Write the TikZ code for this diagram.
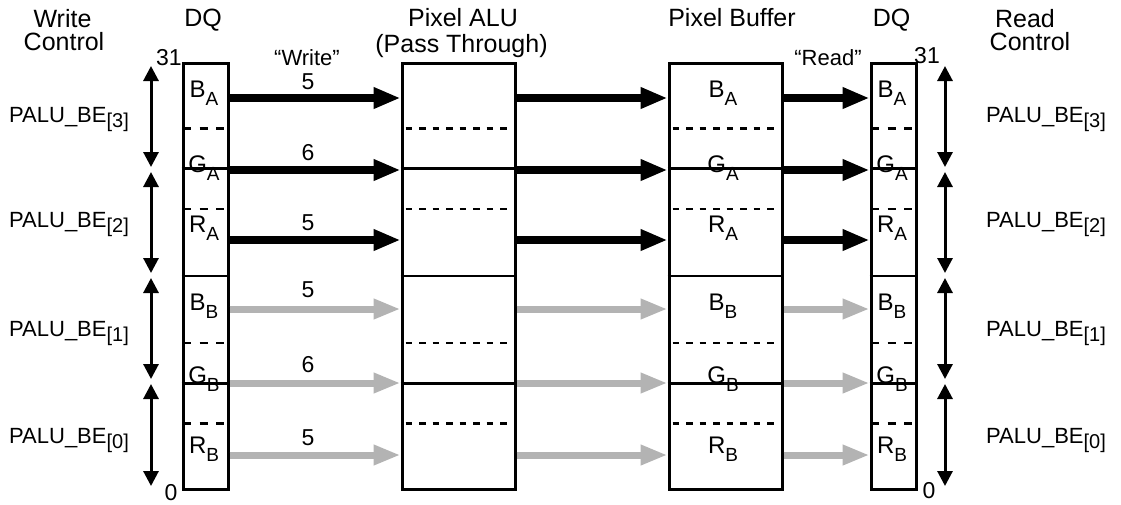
\documentclass[tikz,border=0pt]{standalone}
\usepackage{fontspec}
\setmainfont{Liberation Sans}
\usetikzlibrary{arrows.meta,calc}
\definecolor{lgray}{RGB}{179,179,179}
\newcommand{\csub}[1]{\raisebox{-8pt}{\fontsize{19}{19}\selectfont #1}}
\newcommand{\bsub}[1]{\raisebox{-5pt}{\fontsize{20}{20}\selectfont #1}}
\begin{document}
\begin{tikzpicture}[x=1pt,y=-1pt,
  box/.style={draw, line width=3pt, inner sep=0pt, minimum height=426pt},
  narrow/.style={box, minimum width=45pt},
  wide/.style={box, minimum width=113pt},
  solidln/.style={line width=2.6pt},
  dqdash/.style={line width=2.4pt, dash pattern=on 8pt off 8.5pt},
  aludash/.style={line width=2.4pt, dash pattern=on 6.5pt off 7pt},
  fat/.style={line width=8pt, -{Triangle[length=27pt,width=20pt]}},
  fatg/.style={draw=lgray, line width=7pt, -{Triangle[length=27pt,width=19pt]}},
  dbl/.style={line width=3pt, {Triangle[length=15pt,width=15pt]}-{Triangle[length=15pt,width=15pt]}},
  title/.style={anchor=base, inner sep=0pt, font=\fontsize{25}{28}\selectfont},
  lbl/.style={anchor=base, inner sep=0pt, font=\fontsize{22}{24}\selectfont},
  num/.style={anchor=base, inner sep=0pt, font=\fontsize{23}{24}\selectfont},
  cell/.style={anchor=base, inner sep=0pt, font=\fontsize{24}{26}\selectfont}
]
\useasboundingbox (0,0) rectangle (1121,504);

% boxes
\node[narrow] (dql) at (205.5,276) {};
\node[wide]   (alu) at (458.5,276) {};
\node[wide]   (buf) at (725.5,276) {};
\node[narrow] (dqr) at (893.5,276) {};

% row levels
\coordinate (cB1) at (0,98);
\coordinate (cG1) at (0,170);
\coordinate (cR1) at (0,240);
\coordinate (cB2) at (0,309);
\coordinate (cG2) at (0,383);
\coordinate (cR2) at (0,455);

% inner lines
\foreach \b in {dql,alu,buf,dqr}{
  \foreach \f in {0.25,0.5,0.75}{
    \draw[solidln] ($(\b.north west)!\f!(\b.south west)$) -- ($(\b.north east)!\f!(\b.south east)$);
  }
}
\foreach \b in {dql,dqr}{
  \foreach \f in {0.15625,0.34375,0.65625,0.84375}{
    \draw[dqdash] ($(\b.north west)!\f!(\b.south west)+(1.5,0)$) -- ($(\b.north east)!\f!(\b.south east)$);
  }
}
\foreach \b in {alu,buf}{
  \foreach \f in {0.15625,0.34375,0.65625,0.84375}{
    \draw[aludash] ($(\b.north west)!\f!(\b.south west)+(5,0)$) -- ($(\b.north east)!\f!(\b.south east)+(-5,0)$);
  }
}

% arrows
\foreach \c in {cB1,cG1,cR1}{
  \draw[fat] (dql.east |- \c) -- (alu.west |- \c);
  \draw[fat] (alu.east |- \c) -- (buf.west |- \c);
  \draw[fat] (buf.east |- \c) -- (dqr.west |- \c);
}
\foreach \c in {cB2,cG2,cR2}{
  \draw[fatg] (dql.east |- \c) -- (alu.west |- \c);
  \draw[fatg] (alu.east |- \c) -- (buf.west |- \c);
  \draw[fatg] (buf.east |- \c) -- (dqr.west |- \c);
}

% byte-enable double arrows
\coordinate (l0) at (151,66);  \coordinate (l1) at (151,167);
\coordinate (l2) at (151,172); \coordinate (l3) at (151,273);
\coordinate (l4) at (151,278); \coordinate (l5) at (151,379);
\coordinate (l6) at (151,384); \coordinate (l7) at (151,486);
\coordinate (r0) at (945,66);  \coordinate (r1) at (945,167);
\coordinate (r2) at (945,172); \coordinate (r3) at (945,273);
\coordinate (r4) at (945,278); \coordinate (r5) at (945,379);
\coordinate (r6) at (945,384); \coordinate (r7) at (945,486);
\draw[dbl] (l0) -- (l1); \draw[dbl] (l2) -- (l3);
\draw[dbl] (l4) -- (l5); \draw[dbl] (l6) -- (l7);
\draw[dbl] (r0) -- (r1); \draw[dbl] (r2) -- (r3);
\draw[dbl] (r4) -- (r5); \draw[dbl] (r6) -- (r7);

% titles
\node[title] (wc1) at (62.5,27) {Write};
\node[title] (wc2) at (64,50) {Control};
\node[title] (dqlt) at (203,26) {DQ};
\node[title] (alut) at (463,26) {Pixel ALU};
\node[title] (alut2) at (461.5,52) {(Pass Through)};
\node[title] (buft) at (732,26) {Pixel Buffer};
\node[title] (dqrt) at (891.5,26) {DQ};
\node[title] (rc1) at (1025,27) {Read};
\node[title] (rc2) at (1030,50) {Control};

% bit numbers
\node[num] (b31l) at (169,65) {31};
\node[num] (b0l) at (171,500) {0};
\node[num] (b31r) at (927,63) {31};
\node[num] (b0r) at (929,498) {0};

% write / read
\node[lbl] (wr) at (307,65) {“Write”};
\node[lbl] (rd) at (828,65) {“Read”};

% widths
\node[num] (n1) at (308,89) {5};
\node[num] (n2) at (308,160) {6};
\node[num] (n3) at (308,230) {5};
\node[num] (n4) at (308,297) {5};
\node[num] (n5) at (308,372) {6};
\node[num] (n6) at (308,445) {5};

% PALU_BE labels
\node[lbl] (pl3) at (69,122) {PALU\_BE\bsub{[3]}};
\node[lbl] (pl2) at (69,227) {PALU\_BE\bsub{[2]}};
\node[lbl] (pl1) at (69,336) {PALU\_BE\bsub{[1]}};
\node[lbl] (pl0) at (69,443) {PALU\_BE\bsub{[0]}};
\node[lbl] (pr3) at (1046,122) {PALU\_BE\bsub{[3]}};
\node[lbl] (pr2) at (1046,227) {PALU\_BE\bsub{[2]}};
\node[lbl] (pr1) at (1046,336) {PALU\_BE\bsub{[1]}};
\node[lbl] (pr0) at (1046,443) {PALU\_BE\bsub{[0]}};

% cell labels
\foreach \x/\n in {204/dl,723/bf,892/dr}{
  \node[cell] (\n ba) at (\x,97)  {B\csub{A}};
  \node[cell] (\n ga) at (\x,172) {G\csub{A}};
  \node[cell] (\n ra) at (\x,232) {R\csub{A}};
  \node[cell] (\n bb) at (\x,310) {B\csub{B}};
  \node[cell] (\n gb) at (\x,383) {G\csub{B}};
  \node[cell] (\n rb) at (\x,453) {R\csub{B}};
}
\end{tikzpicture}
\end{document}
